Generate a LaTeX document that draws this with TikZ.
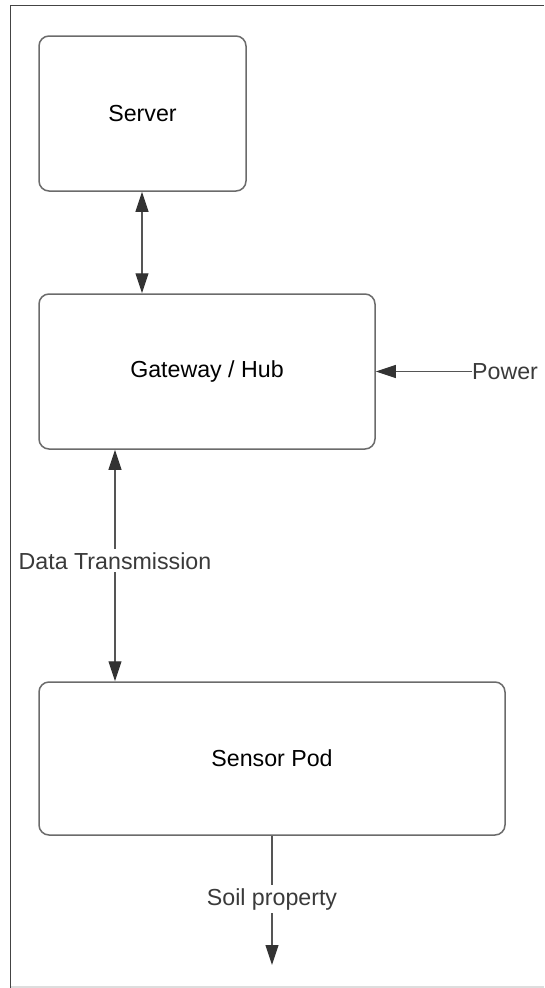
\documentclass[tikz,border=0pt]{standalone}
\usepackage{fontspec}
\setmainfont{Liberation Sans}
\usetikzlibrary{arrows.meta}
\definecolor{boxgray}{HTML}{6B6B6B}
\definecolor{linegray}{HTML}{555555}
\definecolor{tipgray}{HTML}{333333}
\definecolor{lblgray}{HTML}{3A3A3A}
\definecolor{framegray}{HTML}{444444}
\definecolor{lightframe}{HTML}{DDDDDD}
\tikzset{
  box/.style={draw=boxgray, line width=1.5pt, rounded corners=10pt, fill=white,
    font=\fontsize{23.2}{28}\selectfont, text=black, inner sep=0pt},
  conn/.style={draw=linegray, line width=1.1pt,
    arrows={-Triangle[length=20pt,width=13pt,fill=tipgray,color=tipgray]}},
  biconn/.style={draw=linegray, line width=1.1pt,
    arrows={Triangle[length=20pt,width=13pt,fill=tipgray,color=tipgray]-Triangle[length=20pt,width=13pt,fill=tipgray,color=tipgray]}},
  lbl/.style={font=\fontsize{23.2}{28}\selectfont, text=lblgray, fill=white, inner sep=3pt}
}
\begin{document}
\begin{tikzpicture}[x=1pt,y=-1pt]
\useasboundingbox (0,0) rectangle (544,988);
% outer frame
\draw[framegray, line width=1.5pt] (10.5,988) -- (10.5,5.5) -- (544,5.5);
\draw[lightframe, line width=1.5pt] (11,987) -- (544,987);
% boxes
\node[box, minimum width=207pt, minimum height=155pt] (server) at (142.5,113.5) {Server};
\node[box, minimum width=336pt, minimum height=155pt] (gateway) at (207,371.5) {Gateway / Hub};
\node[box, minimum width=466pt, minimum height=153pt] (sensor) at (272,758.5) {Sensor Pod};
% helper coordinates
\coordinate (cx1) at (142,0);
\coordinate (cx2) at (115,0);
\coordinate (pw) at (472,371.5);
\coordinate (soilEnd) at (272,965);
% connectors
\draw[biconn] (server.south -| cx1) -- (gateway.north -| cx1);
\draw[biconn] (gateway.south -| cx2) -- node[lbl, pos=0.48] (dt) {Data Transmission} (sensor.north -| cx2);
\draw[conn] (pw) -- (gateway.east);
\node[anchor=west, inner sep=0pt, font=\fontsize{23.2}{28}\selectfont, text=lblgray] (power) at (pw) {Power};
\draw[conn] (sensor.south) -- node[lbl, pos=0.49] (soil) {Soil property} (soilEnd);
\end{tikzpicture}
\end{document}
